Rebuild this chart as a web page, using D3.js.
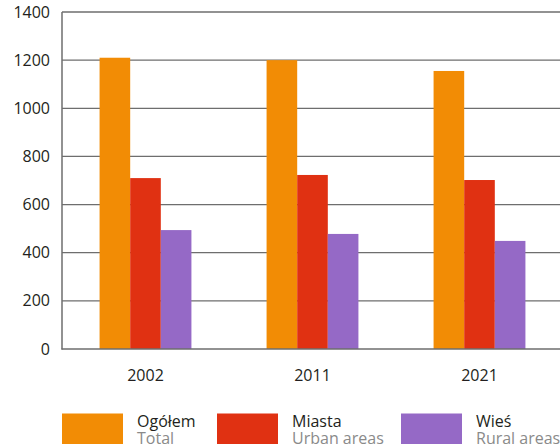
<!DOCTYPE html>
<html><head><meta charset="utf-8">
<script src="https://cdn.jsdelivr.net/npm/d3@7"></script>
<style>body{margin:0;background:#fff}svg{display:block}</style>
</head><body>
<svg id="c" width="560" height="448"></svg>
<script>
const years = ["2002","2011","2021"];
const seriesNames = ["Ogółem","Miasta","Wieś"];
const seriesNamesEn = ["Total","Urban areas","Rural areas"];
const total = [1210, 1200, 1155];
const urban = [710, 723, 702];
const rural = [494, 478, 449];
const yTicks = [0,200,400,600,800,1000,1200,1400];
const colors = ["#F28C05","#E03112","#9569C6"];

const svg = d3.select("#c");
const font = "'Open Sans', sans-serif";
const y = d3.scaleLinear().domain([0,1400]).range([349,12]);
const x0 = d3.scaleBand().domain(years).range([62,563]).paddingInner(0.45).paddingOuter(0.225);
const x1 = d3.scaleBand().domain(seriesNames).range([0,x0.bandwidth()]);
const seriesVals = [total, urban, rural];

// gridlines
svg.append("g").selectAll("line").data(yTicks.filter(d=>d>0)).join("line")
  .attr("x1",62).attr("x2",560).attr("y1",d=>y(d)).attr("y2",d=>y(d))
  .attr("stroke","#6e6e6e").attr("stroke-width",1.3);

// bars
years.forEach((yr,i)=>{
  seriesNames.forEach((s,j)=>{
    svg.append("rect")
      .attr("x",x0(yr)+x1(s)).attr("width",x1.bandwidth())
      .attr("y",y(seriesVals[j][i])).attr("height",y(0)-y(seriesVals[j][i]))
      .attr("fill",colors[j]);
  });
});

// axes lines
svg.append("line").attr("x1",62).attr("x2",62).attr("y1",12).attr("y2",349.5).attr("stroke","#6e6e6e").attr("stroke-width",1.5);
svg.append("line").attr("x1",61.5).attr("x2",560).attr("y1",349).attr("y2",349).attr("stroke","#6e6e6e").attr("stroke-width",1.5);

// y tick labels
svg.append("g").selectAll("text").data(yTicks).join("text")
  .attr("x",50).attr("y",d=>y(d)).attr("dy","0.35em").attr("text-anchor","end")
  .attr("font-family",font).attr("font-size",16).attr("fill","#231f20").text(d=>d);

// x labels
svg.append("g").selectAll("text").data(years).join("text")
  .attr("x",d=>x0(d)+x0.bandwidth()/2).attr("y",381).attr("text-anchor","middle")
  .attr("font-family",font).attr("font-size",16).attr("fill","#231f20").text(d=>d);

// legend
const legX = [62,217,401];
seriesNames.forEach((s,j)=>{
  svg.append("rect").attr("x",legX[j]).attr("y",413.5).attr("width",61).attr("height",30.5).attr("fill",colors[j]);
  svg.append("text").attr("x",legX[j]+75).attr("y",427).attr("font-family",font).attr("font-size",16)
    .attr("fill","#231f20").text(s);
  svg.append("text").attr("x",legX[j]+75).attr("y",444).attr("font-family",font).attr("font-size",16)
    .attr("fill","#8a8a8a").text(seriesNamesEn[j]);
});
</script>
</body></html>
